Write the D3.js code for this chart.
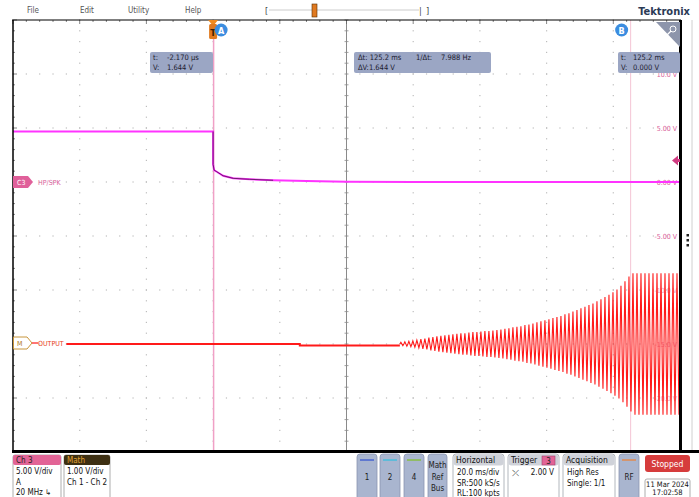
<!DOCTYPE html>
<html>
<head>
<meta charset="utf-8">
<script src="https://cdn.jsdelivr.net/npm/d3@7"></script>
<style>
  html, body { margin: 0; padding: 0; background: #fff; }
  svg { display: block; font-family: "Liberation Sans Narrow", "DejaVu Sans Condensed", "Liberation Sans", sans-serif; }
</style>
</head>
<body>
<div id="chart"></div>
<script>
// ############### DATA ###############
var menuItems = ['File', 'Edit', 'Utility', 'Help'];

// Ch3 HP/SPK, time in ms, volts
var ch3Time  = [-60, 0, 0, 0.3, 1.1, 3, 6, 11, 18, 28, 40, 60, 90, 140];
var ch3Volts = [4.68, 4.68, 1.64, 1.1, 0.95, 0.58, 0.34, 0.25, 0.16, 0.09, 0.03, 0.01, 0.0, 0.0];

// Math OUTPUT baseline before the oscillation
var mathBaseTime  = [-44, 26, 26, 56];
var mathBaseVolts = [0.0, 0.0, -0.03, -0.03];

// Math OUTPUT oscillation: start (ms), period (ms), peak amplitude of each cycle (V)
var mathOscStart = 56;
var mathOscPeriod = 1.2;
var mathCycleAmp = [
  0.03, 0.04, 0.05, 0.06, 0.07, 0.09, 0.10, 0.12, 0.13, 0.14,
  0.15, 0.16, 0.17, 0.18, 0.19, 0.20, 0.20, 0.21, 0.22, 0.22,
  0.23, 0.24, 0.24, 0.25, 0.26, 0.27, 0.28, 0.29, 0.31, 0.32,
  0.33, 0.35, 0.36, 0.38, 0.40, 0.42, 0.44, 0.46, 0.48, 0.50,
  0.52, 0.55, 0.57, 0.60, 0.63, 0.66, 0.69, 0.72, 0.75, 0.79,
  0.83, 0.87, 0.91, 0.96, 1.01, 1.08, 1.16, 1.25, 1.31, 1.31,
  1.31, 1.31, 1.31, 1.31, 1.31, 1.31, 1.31, 1.31, 1.31, 1.31
];

var ch3AxisLabels = ['10.0 V', '5.00 V', '0.00 V', '-5.00 V', '-10.0 V', '-15.0 V', '-20.0 V'];
var ch3AxisValues = [10, 5, 0, -5, -10, -15, -20];

var cursorA = { t: 0, lines: ['t:', '-2.170 µs', 'V:', '1.644 V'] };
var cursorB = { t: 125.2, lines: ['t:', '125.2 ms', 'V:', '0.000 V'] };
var deltaLines = ['Δt: 125.2 ms', '1/Δt:', '7.988 Hz', 'ΔV:1.644 V'];
var triggerLevel = 2.0;

var ch3Info = ['5.00 V/div', 'A', '20 MHz ↳'];
var mathInfo = ['1.00 V/div', 'Ch 1 - Ch 2'];
var horizInfo = ['20.0 ms/div', 'SR:500 kS/s', 'RL:100 kpts'];
var acqInfo = ['High Res', 'Single: 1/1'];
var dateInfo = ['11 Mar 2024', '17:02:58'];

// ############### LAYOUT ###############
var attrs = {
  svgWidth: 699,
  svgHeight: 497,
  plotLeft: 13,
  plotRight: 680,
  plotTop: 20,
  plotBottom: 452
};

var svg = d3.select('#chart').append('svg')
  .attr('width', attrs.svgWidth)
  .attr('height', attrs.svgHeight);

// scales
var x = d3.scaleLinear().domain([-60, 140]).range([attrs.plotLeft, attrs.plotRight]);
var yC3 = d3.scaleLinear().domain([-25, 15]).range([attrs.plotBottom, attrs.plotTop]);   // 5 V/div
var yM = d3.scaleLinear().domain([0, 1]).range([344, 290]);                             // 1 V/div

// ############### MENU BAR ###############
svg.selectAll('.menu').data(menuItems).enter().append('text')
  .attr('x', (d, i) => [27, 80, 128, 185][i])
  .attr('y', 13)
  .attr('font-size', 8)
  .attr('fill', '#555')
  .text(d => d);

svg.append('text').attr('x', 265).attr('y', 14).attr('font-size', 9).attr('fill', '#444').text('[');
svg.append('line').attr('x1', 269).attr('x2', 419).attr('y1', 10).attr('y2', 10)
  .attr('stroke', '#ccc').attr('stroke-width', 1);
svg.append('text').attr('x', 419).attr('y', 14).attr('font-size', 9).attr('fill', '#444').text('|');
svg.append('text').attr('x', 426).attr('y', 14).attr('font-size', 9).attr('fill', '#444').text(']');
svg.append('rect').attr('x', 312).attr('y', 4).attr('width', 5).attr('height', 13)
  .attr('fill', '#e07a20').attr('stroke', '#5a3000').attr('stroke-width', 0.6);

svg.append('text').attr('x', 690).attr('y', 15).attr('text-anchor', 'end')
  .attr('font-size', 11).attr('font-weight', 'bold').attr('fill', '#2b3a55')
  .text('Tektronix');

// ############### GRATICULE ###############
var chart = svg.append('g');

var gridT = d3.range(-40, 140, 20).filter(t => t !== 40);
var gridV = d3.range(-20, 15, 5);

var dots = [];
gridT.forEach(t => d3.range(-25, 15.01, 1).forEach(v => dots.push([t, v])));
gridV.forEach(v => d3.range(-60, 140.01, 4).forEach(t => dots.push([t, v])));

chart.selectAll('.dot').data(dots).enter().append('rect')
  .attr('x', d => x(d[0]) - 0.6)
  .attr('y', d => yC3(d[1]) - 0.6)
  .attr('width', 1.2).attr('height', 1.2)
  .attr('fill', '#bdbdbd');

// center vertical line with ticks
chart.append('line')
  .attr('x1', x(40)).attr('x2', x(40))
  .attr('y1', attrs.plotTop).attr('y2', attrs.plotBottom)
  .attr('stroke', '#8a8a8a').attr('stroke-width', 1);
chart.selectAll('.ctick').data(d3.range(-25, 15.01, 1)).enter().append('line')
  .attr('x1', x(40) - 2).attr('x2', x(40) + 2)
  .attr('y1', d => yC3(d)).attr('y2', d => yC3(d))
  .attr('stroke', '#8a8a8a').attr('stroke-width', 0.8);

// edge ticks
chart.selectAll('.ttick').data(d3.range(-60, 140.01, 4)).enter().append('line')
  .attr('x1', d => x(d)).attr('x2', d => x(d))
  .attr('y1', attrs.plotTop).attr('y2', d => attrs.plotTop + ((d + 60) % 20 === 0 ? 4 : 2))
  .attr('stroke', '#666').attr('stroke-width', 0.8);
chart.selectAll('.ltick').data(d3.range(-25, 15.01, 1)).enter().append('line')
  .attr('x1', attrs.plotLeft).attr('x2', d => attrs.plotLeft + ((d + 25) % 5 === 0 ? 4 : 2))
  .attr('y1', d => yC3(d)).attr('y2', d => yC3(d))
  .attr('stroke', '#666').attr('stroke-width', 0.8);

// ############### CURSORS (behind traces) ###############
chart.append('line')
  .attr('x1', x(cursorB.t)).attr('x2', x(cursorB.t))
  .attr('y1', attrs.plotTop).attr('y2', attrs.plotBottom)
  .attr('stroke', '#f4c4d4').attr('stroke-width', 1);

chart.append('line')
  .attr('x1', x(cursorA.t) + 0.5).attr('x2', x(cursorA.t) + 0.5)
  .attr('y1', attrs.plotTop).attr('y2', attrs.plotBottom)
  .attr('stroke', '#f0a0c6').attr('stroke-width', 1.5);

// ############### AXIS LABELS (right, Ch3) ###############
chart.selectAll('.vlab').data(ch3AxisValues).enter().append('text')
  .attr('x', 677)
  .attr('y', d => yC3(d) + 3)
  .attr('text-anchor', 'end')
  .attr('font-size', 7)
  .attr('fill', (d, i) => i < 4 ? '#d9609a' : '#e9a0bf')
  .text((d, i) => ch3AxisLabels[i]);

// ############### TRACES ###############
var lineC3 = d3.line().x(d => x(d[0])).y(d => yC3(d[1]));
var lineM = d3.line().x(d => x(d[0])).y(d => yM(d[1]));

var ch3Data = ch3Time.map((t, i) => [t, ch3Volts[i]]);
chart.append('path')
  .attr('d', lineC3(ch3Data))
  .attr('fill', 'none')
  .attr('stroke', '#ff33ff')
  .attr('stroke-width', 2);

// darker sample cloud on the fast part of the decay
chart.append('path')
  .attr('d', lineC3(ch3Data.filter(d => d[0] >= 0 && d[0] <= 18)))
  .attr('fill', 'none')
  .attr('stroke', '#6e1a6e')
  .attr('stroke-width', 1);

var mathBase = mathBaseTime.map((t, i) => [t, mathBaseVolts[i]]);
chart.append('path')
  .attr('d', lineM(mathBase))
  .attr('fill', 'none')
  .attr('stroke', '#ff1a1a')
  .attr('stroke-width', 2);

var osc = [];
mathCycleAmp.forEach((a, k) => {
  var t0 = mathOscStart + k * mathOscPeriod;
  osc.push([t0, 0], [t0 + mathOscPeriod * 0.25, a], [t0 + mathOscPeriod * 0.75, -a]);
});
osc.push([mathOscStart + mathCycleAmp.length * mathOscPeriod, 0]);
chart.append('path')
  .attr('d', lineM(osc.filter(d => d[0] <= 140)))
  .attr('fill', 'none')
  .attr('stroke', '#ff1a1a')
  .attr('stroke-width', 1.1);

// ############### FRAME ###############
svg.append('line').attr('x1', 12).attr('x2', 681).attr('y1', 20).attr('y2', 20)
  .attr('stroke', '#000').attr('stroke-width', 1.2);
svg.append('line').attr('x1', 13).attr('x2', 13).attr('y1', 20).attr('y2', 452)
  .attr('stroke', '#000').attr('stroke-width', 1.5);
svg.append('line').attr('x1', 680.5).attr('x2', 680.5).attr('y1', 20).attr('y2', 452)
  .attr('stroke', '#000').attr('stroke-width', 3);
svg.append('line').attr('x1', 12).attr('x2', 699).attr('y1', 451.5).attr('y2', 451.5)
  .attr('stroke', '#000').attr('stroke-width', 3);
svg.append('line').attr('x1', 692).attr('x2', 692).attr('y1', 20).attr('y2', 450)
  .attr('stroke', '#d0d0d0').attr('stroke-width', 1);
svg.selectAll('.vdots').data([235, 240, 245]).enter().append('rect')
  .attr('x', 686.5).attr('y', d => d - 1).attr('width', 2.5).attr('height', 2.5)
  .attr('fill', '#222');

// ############### MARKERS ###############
// trigger position marker
var tx = x(0);
svg.append('path')
  .attr('d', `M${tx - 5},20 L${tx + 5},20 L${tx},26 Z`)
  .attr('fill', '#f08a1e');
svg.append('rect').attr('x', tx - 4).attr('y', 24).attr('width', 8).attr('height', 15).attr('rx', 1.5)
  .attr('fill', '#e07a20');
svg.append('text').attr('x', tx).attr('y', 36).attr('text-anchor', 'middle')
  .attr('font-size', 9).attr('font-weight', 'bold').attr('fill', '#3a2000').text('T');

// cursor badges
function badge(cx, cy, label) {
  svg.append('circle').attr('cx', cx).attr('cy', cy).attr('r', 6.5).attr('fill', '#3b8de0');
  svg.append('text').attr('x', cx).attr('y', cy + 3.5).attr('text-anchor', 'middle')
    .attr('font-size', 9).attr('font-weight', 'bold').attr('fill', '#fff').text(label);
}
badge(tx + 8, 30, 'A');
badge(x(cursorB.t) - 9, 30, 'B');

// zoom triangle
svg.append('path').attr('d', 'M656,22 L680,22 L680,47 Z').attr('fill', '#8d95ab');
svg.append('circle').attr('cx', 673).attr('cy', 29).attr('r', 3).attr('fill', 'none')
  .attr('stroke', '#fff').attr('stroke-width', 1);
svg.append('line').attr('x1', 671).attr('y1', 31).attr('x2', 667).attr('y2', 35)
  .attr('stroke', '#fff').attr('stroke-width', 1.2);

// readout boxes
function readout(bx, by, bw, items) {
  svg.append('rect').attr('x', bx).attr('y', by).attr('width', bw).attr('height', 21).attr('rx', 2)
    .attr('fill', '#9ba6c4');
  items.forEach(it => {
    svg.append('text').attr('x', it[0]).attr('y', it[1]).attr('font-size', 7.5)
      .attr('fill', '#1c2030').text(it[2]);
  });
}
readout(150, 52, 63, [
  [153, 60, cursorA.lines[0]], [167, 60, cursorA.lines[1]],
  [153, 70, cursorA.lines[2]], [167, 70, cursorA.lines[3]]
]);
readout(354, 52, 137, [
  [358, 60, deltaLines[0]], [416, 60, deltaLines[1]], [441, 60, deltaLines[2]],
  [358, 70, deltaLines[3]]
]);
readout(618, 52, 62, [
  [621, 60, cursorB.lines[0]], [633, 60, cursorB.lines[1]],
  [621, 70, cursorB.lines[2]], [633, 70, cursorB.lines[3]]
]);

// trigger level arrow
var ty = yC3(triggerLevel);
svg.append('path')
  .attr('d', `M672,${ty} L678,${ty - 5} L678,${ty - 1.5} L680,${ty - 1.5} L680,${ty + 1.5} L678,${ty + 1.5} L678,${ty + 5} Z`)
  .attr('fill', '#d03c82');

// channel tags
var c3y = yC3(0);
svg.append('path')
  .attr('d', `M13,${c3y - 6} L28,${c3y - 6} L33,${c3y} L28,${c3y + 6} L13,${c3y + 6} Z`)
  .attr('fill', '#e0609a');
svg.append('text').attr('x', 17).attr('y', c3y + 2.5).attr('font-size', 7).attr('fill', '#fff').text('C3');
svg.append('text').attr('x', 38).attr('y', c3y + 2.5).attr('font-size', 7).attr('fill', '#d9609a').text('HP/SPK');

var my = yM(0) - 1;
svg.append('path')
  .attr('d', `M13.5,${my - 6} L27,${my - 6} L32,${my} L27,${my + 6} L13.5,${my + 6} Z`)
  .attr('fill', '#fff').attr('stroke', '#c8963c').attr('stroke-width', 1);
svg.append('text').attr('x', 17).attr('y', my + 2.5).attr('font-size', 7).attr('fill', '#b07820').text('M');
svg.append('line').attr('x1', 32).attr('x2', 38).attr('y1', my).attr('y2', my)
  .attr('stroke', '#ff1a1a').attr('stroke-width', 1.2);
svg.append('text').attr('x', 38).attr('y', my + 2.5).attr('font-size', 7).attr('fill', '#e8401a').text('OUTPUT');

// ############### STATUS BAR ###############
var bar = svg.append('g').attr('font-size', 8);

function infoBox(bx, bw, head, headFill, headColor, lines) {
  bar.append('rect').attr('x', bx).attr('y', 455).attr('width', bw).attr('height', 46).attr('rx', 2)
    .attr('fill', '#fff').attr('stroke', '#9a9a9a').attr('stroke-width', 0.8);
  bar.append('rect').attr('x', bx).attr('y', 455).attr('width', bw).attr('height', 10).attr('rx', 2)
    .attr('fill', headFill);
  bar.append('text').attr('x', bx + 3).attr('y', 463).attr('fill', headColor).text(head);
  lines.forEach((l, i) => {
    bar.append('text').attr('x', bx + 3).attr('y', 474 + i * 10.5).attr('fill', '#111').text(l);
  });
}
infoBox(13, 48, 'Ch 3', '#e26496', '#222', ch3Info);
infoBox(64, 46, 'Math', '#3d2f12', '#e0a030', mathInfo);

function button(bx, bw, lineColor, labels) {
  bar.append('rect').attr('x', bx).attr('y', 454).attr('width', bw).attr('height', 46).attr('rx', 3)
    .attr('fill', '#a9b5cf').attr('stroke', '#8a95b0').attr('stroke-width', 0.8);
  if (lineColor) {
    bar.append('line').attr('x1', bx + 3).attr('x2', bx + bw - 3).attr('y1', 460).attr('y2', 460)
      .attr('stroke', lineColor).attr('stroke-width', 1.2);
  }
  labels.forEach((l, i) => {
    bar.append('text').attr('x', bx + bw / 2).attr('y', labels.length > 1 ? 468 + i * 11.5 : 480)
      .attr('text-anchor', 'middle').attr('fill', '#222').text(l);
  });
}
button(357, 20, '#3050d0', ['1']);
button(380, 20, '#30c0e0', ['2']);
button(404, 20, '#80c020', ['4']);
button(428, 19, null, ['Math', 'Ref', 'Bus']);
button(619, 20, '#f08030', ['RF']);

function panel(bx, bw, head, lines) {
  bar.append('rect').attr('x', bx).attr('y', 454).attr('width', bw).attr('height', 46).attr('rx', 3)
    .attr('fill', '#fff').attr('stroke', '#a0a4ac').attr('stroke-width', 0.8);
  bar.append('rect').attr('x', bx + 0.5).attr('y', 454.5).attr('width', bw - 1).attr('height', 11).attr('rx', 3)
    .attr('fill', '#cfd2d9');
  bar.append('text').attr('x', bx + 3).attr('y', 463).attr('font-size', 8.5).attr('fill', '#111').text(head);
  lines.forEach((l, i) => {
    bar.append('text').attr('x', bx + 4).attr('y', 475 + i * 10.5).attr('fill', '#111').text(l);
  });
}
panel(453, 51, 'Horizontal', horizInfo);
panel(508, 51, 'Trigger', []);
panel(563, 52, 'Acquisition', acqInfo);

// trigger details
bar.append('rect').attr('x', 542).attr('y', 456).attr('width', 13).attr('height', 9)
  .attr('fill', '#e26496').attr('stroke', '#a04070').attr('stroke-width', 0.6);
bar.append('text').attr('x', 548.5).attr('y', 463.5).attr('text-anchor', 'middle').attr('fill', '#222').text('3');
bar.append('text').attr('x', 512).attr('y', 476).attr('font-size', 9).attr('fill', '#111').text('⤫');
bar.append('text').attr('x', 554).attr('y', 475).attr('text-anchor', 'end').attr('fill', '#111').text(triggerLevel.toFixed(2) + ' V');

// stopped + date
bar.append('rect').attr('x', 645).attr('y', 455).attr('width', 45).attr('height', 17).attr('rx', 3)
  .attr('fill', '#d63c3c');
bar.append('text').attr('x', 667.5).attr('y', 466.5).attr('text-anchor', 'middle').attr('font-size', 8.5)
  .attr('fill', '#fff').text('Stopped');
bar.append('rect').attr('x', 645).attr('y', 479).attr('width', 45).attr('height', 20).attr('rx', 2)
  .attr('fill', '#fff').attr('stroke', '#9a9a9a').attr('stroke-width', 0.8);
dateInfo.forEach((l, i) => {
  bar.append('text').attr('x', 667.5).attr('y', 486.5 + i * 8.5).attr('text-anchor', 'middle')
    .attr('font-size', 7.5).attr('fill', '#111').text(l);
});
</script>
</body>
</html>
